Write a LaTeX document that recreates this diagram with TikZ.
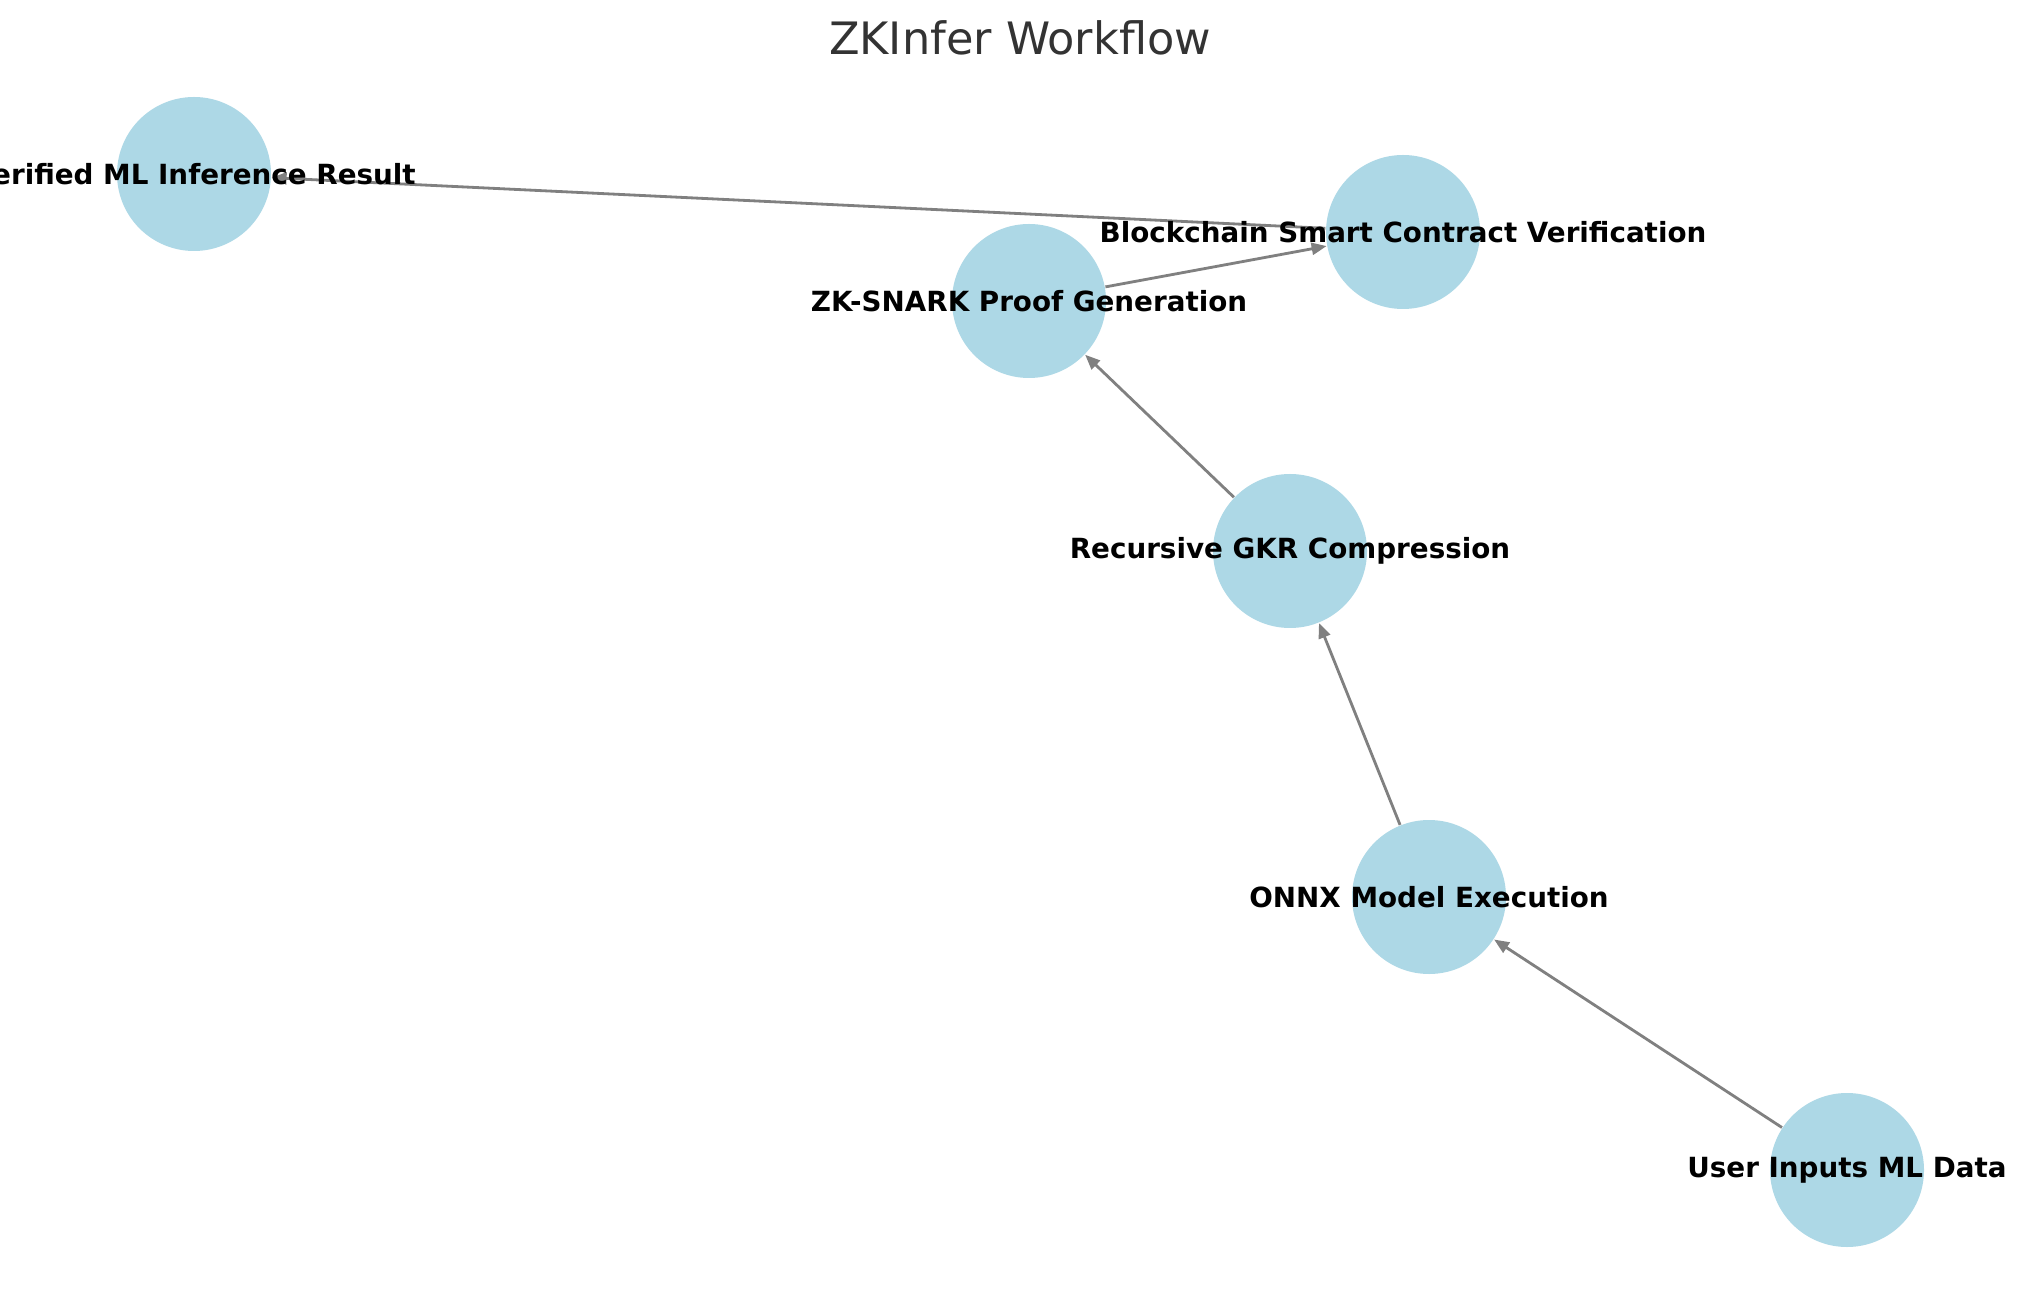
\documentclass[tikz,border=0pt]{standalone}
\usepackage{tikz}
\usetikzlibrary{arrows,arrows.meta}
\usepackage{xcolor}
\usepackage{fontspec}
\setmainfont{DejaVu Sans}
\definecolor{nodeblue}{HTML}{ADD8E6}
\definecolor{edgegray}{HTML}{808080}
\definecolor{titlegray}{HTML}{333333}

\begin{document}
\begin{tikzpicture}
\clip (0,0) rectangle (20.39,12.90);
\fill[white] (0,0) rectangle (20.39,12.90);

\node[text=titlegray,font=\fontsize{12.7}{15}\selectfont] (title) at (10.20,12.52) {ZKInfer Workflow};

\begin{scope}[every node/.style={circle,fill=nodeblue,minimum size=1.54cm,inner sep=0pt}]
    \node (user)   at (18.47,1.20)  {};
    \node (onnx)   at (14.29,3.93)  {};
    \node (gkr)    at (12.90,7.39)  {};
    \node (snark)  at (10.29,9.89)  {};
    \node (chain)  at (14.03,10.58) {};
    \node (result) at (1.94,11.16)  {};
\end{scope}

\begin{scope}[>={Triangle[length=1.5mm,width=1.2mm]},
              every edge/.style={draw=edgegray,line width=0.8pt}]
    \path [->] (user)  edge (onnx);
    \path [->] (onnx)  edge (gkr);
    \path [->] (gkr)   edge (snark);
    \path [->] (snark) edge (chain);
    \path [->] (chain) edge (result);
\end{scope}

\begin{scope}[every node/.style={font=\bfseries\fontsize{7.9}{10}\selectfont}]
    \node (userlabel)   at (user.center)   {User Inputs ML Data};
    \node (onnxlabel)   at (onnx.center)   {ONNX Model Execution};
    \node (gkrlabel)    at (gkr.center)    {Recursive GKR Compression};
    \node (snarklabel)  at (snark.center)  {ZK-SNARK Proof Generation};
    \node (chainlabel)  at (chain.center)  {Blockchain Smart Contract Verification};
    \node (resultlabel) at (result.center) {Verified ML Inference Result};
\end{scope}
\end{tikzpicture}
\end{document}
